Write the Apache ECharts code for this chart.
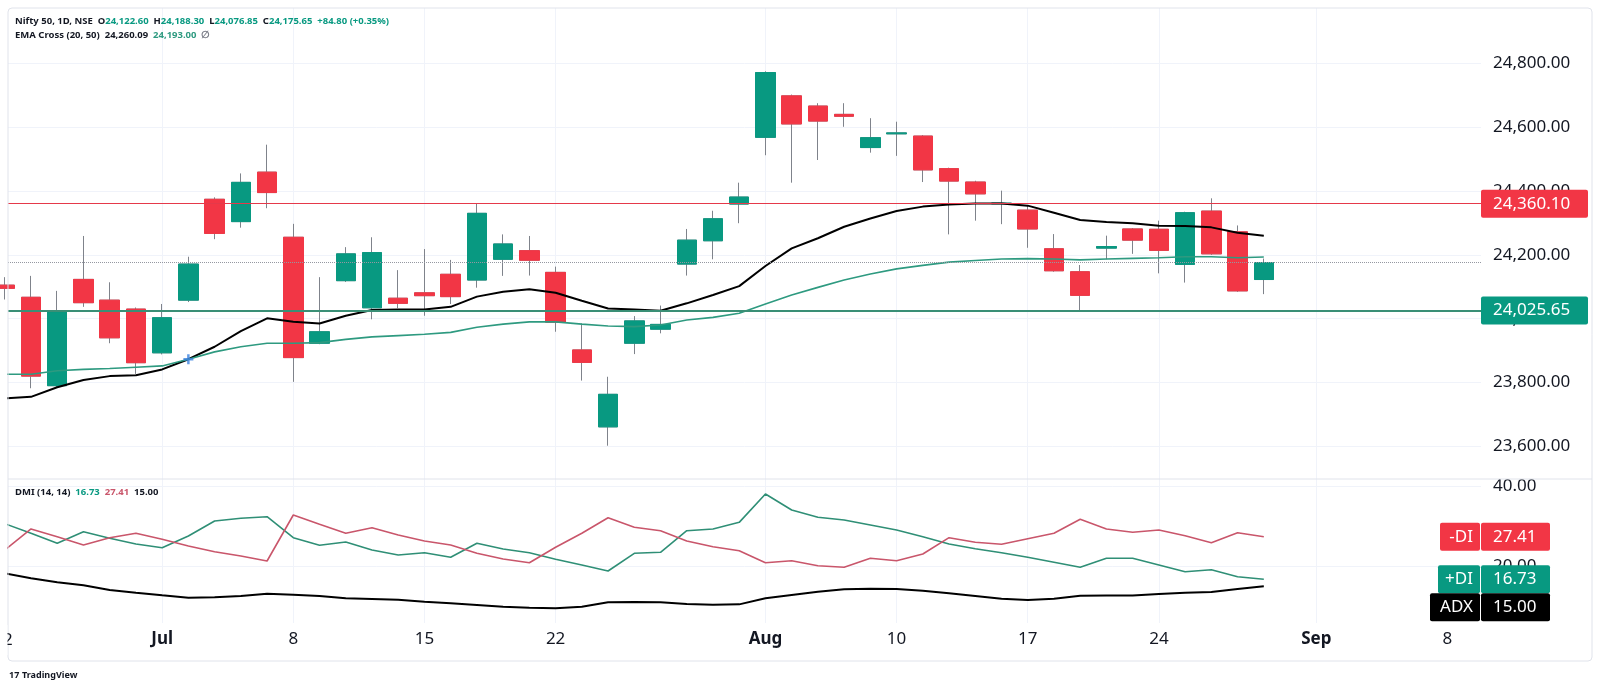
<!DOCTYPE html>
<html>
<head>
<meta charset="utf-8">
<script src="https://cdn.jsdelivr.net/npm/echarts@6/dist/echarts.min.js"></script>
<style>html,body{margin:0;padding:0;background:#fff}#c{width:1600px;height:690px}</style>
</head>
<body>
<div id="c"></div>
<script>
// ---- data (first bar is the partially visible one at the left edge) ----
const opens  = [24105,24067,23790,24123,24058,24030,23893,24058,24374,24304,24459,24255,23923,24119,24034,24064,24081,24139,24121,24186,24213,24145,23902,23661,23923,23967,24171,24244,24359,24568,24698,24666,24640,24536,24579,24572,24470,24428,24360,24340,24219,24147,24221,24281,24280,24170,24337,24272,24122.60];
const closes = [24095,23820,24022,24050,23940,23862,24003,24171,24267,24427,24395,23878,23959,24203,24207,24048,24072,24069,24330,24234,24183,23989,23863,23763,23993,23982,24246,24313,24381,24771,24610,24619,24634,24567,24582,24466,24431,24391,24362,24281,24150,24073,24226,24246,24214,24332,24203,24087,24175.65];
const lows   = [24060,23782,23785,24037,23923,23827,23888,24052,24249,24285,24346,23802,23920,24115,23998,24033,24009,24046,24097,24134,24135,23959,23806,23602,23889,23954,24135,24186,24299,24512,24426,24497,24601,24520,24510,24428,24264,24307,24296,24222,24147,24026,24186,24203,24142,24113,24200,24084,24076.85];
const highs  = [24130,24134,24087,24259,24114,24035,24046,24194,24380,24455,24545,24297,24130,24224,24255,24152,24218,24184,24361,24264,24259,24163,23985,23818,24008,24041,24281,24338,24426,24775,24702,24675,24675,24628,24617,24575,24473,24432,24401,24356,24265,24168,24260,24284,24307,24335,24377,24292,24188.30];
const ema20  = [23750,23755,23785,23808,23820,23823,23841,23873,23912,23961,24001,23990,23985,24009,24027,24029,24029,24037,24069,24084,24092,24081,24056,24032,24029,24025,24048,24074,24102,24165,24220,24252,24288,24314,24337,24351,24358,24361,24361,24354,24332,24309,24303,24299,24291,24290,24286,24269,24260.09];
const ema50  = [23826,23826,23837,23841,23844,23848,23852,23873,23896,23912,23923,23923,23925,23935,23943,23947,23951,23957,23973,23983,23990,23990,23983,23977,23975,23980,23996,24004,24017,24046,24074,24098,24121,24140,24156,24167,24177,24182,24187,24188,24187,24184,24187,24189,24191,24194,24194,24191,24193.00];
const plusDI = [30.67,28.26,25.76,28.66,27.01,25.58,24.65,27.58,31.35,32.02,32.42,27.16,25.25,26.08,24.08,22.82,23.40,22.24,25.76,24.33,23.40,21.74,20.32,18.81,23.25,23.50,28.91,29.34,31.01,38.11,34.10,32.27,31.60,30.34,29.09,27.41,25.58,24.40,23.40,22.24,20.99,19.74,22.00,22.00,20.32,18.64,19.14,17.38,16.73];
const minusDI= [24.08,29.34,27.41,25.33,27.16,28.26,26.76,25.08,23.65,22.57,21.32,32.85,30.52,28.26,29.67,27.84,26.33,25.33,23.25,21.82,20.89,24.75,28.26,32.17,29.77,28.91,26.33,24.90,23.90,20.89,21.39,20.14,19.74,22.00,21.39,23.07,27.16,26.01,25.50,26.91,28.26,31.77,29.34,28.51,29.09,27.66,25.91,28.41,27.41];
const adx    = [18.24,17.00,15.98,15.23,14.05,13.37,12.72,12.12,12.22,12.55,13.12,12.87,12.55,11.97,11.80,11.62,11.12,10.72,10.29,9.87,9.62,9.47,9.87,10.97,11.04,10.97,10.54,10.37,10.45,11.97,12.80,13.63,14.23,14.38,14.30,13.88,13.22,12.55,11.87,11.55,11.87,12.62,12.70,12.70,13.05,13.37,13.55,14.30,15.00];

const tickIndex  = [5,10,15,20,28,33,38,43,49,54];
const tickLabels = ['Jul','8','15','22','Aug','10','17','24','Sep','8'];
const monthLabels = ['Jul','Aug','Sep'];
const priceTicks = [23600,23800,24000,24200,24400,24600,24800];
const dmiTicks = [20,40];
const resistance = 24360.10, support = 24025.65, lastPrice = 24175.65;
const crossBar = 6;

// ---- build ----
const barIndex = opens.map((_, i) => i - 1);
const xMin = -0.877, xMax = 55.28;
const F = '"Noto Sans", sans-serif';
const UP = '#089981', DOWN = '#f23645', TXT = '#131722', GRID = '#f0f3fa';
const fmt2 = v => Number(v).toLocaleString('en-US', {minimumFractionDigits:2, maximumFractionDigits:2});

const wickData = barIndex.map((x,i)=>[x, opens[i], closes[i], lows[i], highs[i]]);
const bodyData = barIndex.map((x,i)=>[x, opens[i], closes[i], Math.min(opens[i],closes[i]), Math.max(opens[i],closes[i])]);
const pts = arr => barIndex.map((x,i)=>[x, arr[i]]);
const gridX = tickIndex.filter(v => v < 50);

const chart = echarts.init(document.getElementById('c'));
const HF = 9.5;
const rich10 = {
  d:{color:TXT, fontSize:HF, fontFamily:F, lineHeight:14},
  g:{color:UP, fontSize:HF, fontFamily:F, lineHeight:14},
  t:{color:'#2e9a80', fontSize:HF, fontFamily:F, lineHeight:14},
  r:{color:'#c9566b', fontSize:HF, fontFamily:F, lineHeight:14},
  m:{color:'#787b86', fontSize:HF, fontFamily:F, lineHeight:14}
};
const option = {
  animation:false,
  backgroundColor:'#ffffff',
  textStyle:{fontFamily:F},
  title:[
    {left:15, top:14, padding:0, text:'{d|Nifty 50, 1D, NSE}  {d|O}{g|'+fmt2(opens[opens.length-1])+'}  {d|H}{g|'+fmt2(highs[highs.length-1])+'}  {d|L}{g|'+fmt2(lows[lows.length-1])+'}  {d|C}{g|'+fmt2(closes[closes.length-1])+'}  {g|+84.80 (+0.35%)}', textStyle:{fontSize:HF, rich:rich10}},
    {left:15, top:28, padding:0, text:'{d|EMA Cross (20, 50)}  {d|'+fmt2(ema20[ema20.length-1])+'}  {t|'+fmt2(ema50[ema50.length-1])+'}  {m|∅}', textStyle:{fontSize:HF, rich:rich10}},
    {left:15, top:485, padding:0, text:'{d|DMI (14, 14)}  {g|'+fmt2(plusDI[plusDI.length-1])+'}  {r|'+fmt2(minusDI[minusDI.length-1])+'}  {d|'+fmt2(adx[adx.length-1])+'}', textStyle:{fontSize:HF, rich:rich10}}
  ],
  grid:[
    {left:8, top:8, width:1473, height:471},
    {left:8, top:479, width:1473, height:144}
  ],
  xAxis:[
    {type:'value', gridIndex:0, min:xMin, max:xMax, axisLine:{show:false}, axisTick:{show:false}, axisLabel:{show:false}, splitLine:{show:false}},
    {type:'value', gridIndex:1, min:xMin, max:xMax, axisLine:{show:false}, axisTick:{show:false}, splitLine:{show:false},
      axisLabel:{customValues:tickIndex, margin:8, fontSize:17, color:TXT, fontFamily:F,
        formatter:v=>{const i=tickIndex.indexOf(v); if(i<0) return ''; const t=tickLabels[i]; return monthLabels.includes(t)?'{b|'+t+'}':t;},
        rich:{b:{fontWeight:'bold', fontSize:17, color:TXT, fontFamily:F}}}}
  ],
  yAxis:[
    {type:'value', gridIndex:0, position:'right', min:23497.7, max:24973.2, axisLine:{show:false}, axisTick:{show:false}, splitLine:{show:false},
      axisLabel:{customValues:priceTicks, formatter:v=>fmt2(v), margin:12, fontSize:17, color:TXT, fontFamily:F}},
    {type:'value', gridIndex:1, position:'right', min:5.78, max:41.87, axisLine:{show:false}, axisTick:{show:false}, splitLine:{show:false},
      axisLabel:{customValues:dmiTicks, formatter:v=>fmt2(v), margin:12, fontSize:17, color:TXT, fontFamily:F}}
  ],
  series:[
    {type:'line', xAxisIndex:0, yAxisIndex:0, data:[], silent:true,
      markLine:{z:1, silent:true, symbol:['none','none'], label:{show:false}, lineStyle:{color:GRID, width:1, type:'solid'},
        data:[...priceTicks.map(v=>({yAxis:v})), ...gridX.map(v=>({xAxis:v}))]}},
    {type:'line', xAxisIndex:1, yAxisIndex:1, data:[], silent:true,
      markLine:{z:1, silent:true, symbol:['none','none'], label:{show:false}, lineStyle:{color:GRID, width:1, type:'solid'},
        data:[...dmiTicks.map(v=>({yAxis:v})), ...gridX.map(v=>({xAxis:v}))]}},
    {type:'candlestick', name:'wicks', xAxisIndex:0, yAxisIndex:0, z:2, barWidth:20, silent:true, data:wickData,
      itemStyle:{color:'rgba(0,0,0,0)', color0:'rgba(0,0,0,0)', borderColor:'#7f838b', borderColor0:'#7f838b', borderWidth:1}},
    {type:'candlestick', name:'bodies', xAxisIndex:0, yAxisIndex:0, z:3, barWidth:20, silent:true, data:bodyData,
      itemStyle:{color:UP, color0:DOWN, borderColor:UP, borderColor0:DOWN, borderWidth:1},
      markLine:{z:6, silent:true, symbol:['none','none'], label:{show:false},
        data:[
          {yAxis:resistance, lineStyle:{color:'#e5394a', width:1.2, type:'solid'}},
          {yAxis:support, lineStyle:{color:'#3a8f76', width:2, type:'solid'}},
          {yAxis:lastPrice, lineStyle:{color:'#9598a1', width:1, type:'dotted'}}
        ]}},
    {type:'line', name:'EMA20', xAxisIndex:0, yAxisIndex:0, z:4, data:pts(ema20), showSymbol:false, silent:true, lineStyle:{color:'#000000', width:2}},
    {type:'line', name:'EMA50', xAxisIndex:0, yAxisIndex:0, z:4, data:pts(ema50), showSymbol:false, silent:true, lineStyle:{color:'#2e9a80', width:1.6}},
    {type:'scatter', xAxisIndex:0, yAxisIndex:0, z:7, silent:true, data:[[crossBar, ema20[crossBar+1]]],
      symbol:'path://M3,0h2v3h3v2h-3v3h-2v-3h-3v-2h3z', symbolSize:10, itemStyle:{color:'#3b82e0'}},
    {type:'line', name:'+DI', xAxisIndex:1, yAxisIndex:1, z:4, data:pts(plusDI), showSymbol:false, silent:true, lineStyle:{color:'#2f8f76', width:1.6}},
    {type:'line', name:'-DI', xAxisIndex:1, yAxisIndex:1, z:4, data:pts(minusDI), showSymbol:false, silent:true, lineStyle:{color:'#c9566b', width:1.6}},
    {type:'line', name:'ADX', xAxisIndex:1, yAxisIndex:1, z:4, data:pts(adx), showSymbol:false, silent:true, lineStyle:{color:'#000000', width:2}}
  ]
};
chart.setOption(option);

// ---- price-scale tags placed through the chart's own scales ----
const xr = chart.convertToPixel({xAxisIndex:0}, xMax);
const py = v => chart.convertToPixel({yAxisIndex:0}, v);
const dy = v => chart.convertToPixel({yAxisIndex:1}, v);
const font17 = '17px ' + F;
const g = [];
const txt = (text, x, y, align, fill, font, z) => ({type:'text', z:z||101, silent:true,
  style:{text, x, y, fill, font: font||font17, align, verticalAlign:'middle', textAlign:align, textVerticalAlign:'middle'}});

[[resistance, DOWN], [support, UP]].forEach(([v, c]) => {
  const y = py(v);
  g.push({type:'rect', z:100, silent:true, shape:{x:xr, y:y-14, width:107, height:28, r:2}, style:{fill:c}});
  g.push(txt(fmt2(v), xr+12, y, 'left', '#ffffff'));
});

const tags = [
  {name:'-DI', v:minusDI[minusDI.length-1], c:DOWN, w:40},
  {name:'+DI', v:plusDI[plusDI.length-1], c:UP, w:42},
  {name:'ADX', v:adx[adx.length-1], c:'#000000', w:50}
].map(t => Object.assign(t, {y:dy(t.v)})).sort((a,b)=>a.y-b.y);
let prevBottom = -1e9;
tags.forEach(t => {
  let y = t.y;
  if (y - 14 < prevBottom) y = prevBottom + 14;
  prevBottom = y + 14;
  g.push({type:'rect', z:100, silent:true, shape:{x:xr-1-t.w, y:y-14, width:t.w, height:28, r:2}, style:{fill:t.c}});
  g.push({type:'rect', z:100, silent:true, shape:{x:xr, y:y-14, width:69, height:28, r:2}, style:{fill:t.c}});
  g.push(txt(t.name, xr-8, y, 'right', '#ffffff'));
  g.push(txt(fmt2(t.v), xr+12, y, 'left', '#ffffff'));
});

// frame, pane separator, clipped left label, logo
g.push({type:'rect', z:90, silent:true, shape:{x:8, y:8, width:1584, height:653, r:4}, style:{fill:'none', stroke:'#e0e3eb', lineWidth:1}});
g.push({type:'line', z:90, silent:true, shape:{x1:8, y1:479, x2:1592, y2:479}, style:{stroke:'#e0e3eb', lineWidth:1}});
g.push(txt('2', 3, 640, 'left', TXT));
g.push({type:'rect', z:102, silent:true, shape:{x:0, y:625, width:7.5, height:30}, style:{fill:'#ffffff'}});
g.push(txt('17', 9, 675, 'left', TXT, 'bold 9px ' + F));
g.push(txt('TradingView', 22, 675, 'left', TXT, 'bold 9px ' + F));

chart.setOption({graphic:{elements:g}});
</script>
</body>
</html>
